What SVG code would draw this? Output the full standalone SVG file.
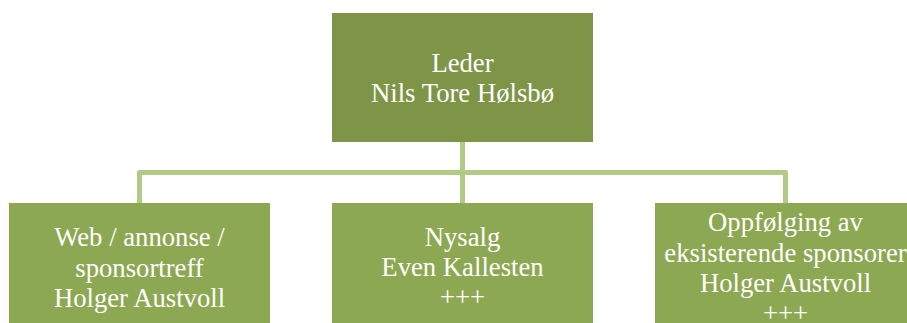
<svg xmlns="http://www.w3.org/2000/svg" width="907" height="323" viewBox="0 0 907 323">
<style>
.top{fill:#7E9548}
.box{fill:#8DA852}
text{font-family:'Liberation Serif','Times New Roman',serif;font-size:26.7px;fill:#FFFFFF;text-anchor:middle}
.c{fill:none;stroke:#B2CA84;stroke-width:5;stroke-linejoin:round}
</style>
<rect width="907" height="323" fill="#FFFFFF"/>
<g id="connectors">
<path class="c" d="M462.5,142 V172.5"/>
<path class="c" d="M139.5,203 V172.5 H785.5 V203"/>
<path class="c" d="M462.5,172.5 V203"/>
</g>
<g id="leder">
<rect class="top" x="332" y="13" width="261" height="129"/>
<text x="462.5" y="72">Leder</text>
<text x="462.5" y="102">Nils Tore Hølsbø</text>
</g>
<g id="web">
<rect class="box" x="9" y="203" width="261" height="130"/>
<text x="139.5" y="246">Web / annonse /</text>
<text x="139.5" y="277">sponsortreff</text>
<text x="139.5" y="307">Holger Austvoll</text>
</g>
<g id="nysalg">
<rect class="box" x="332" y="203" width="261" height="130"/>
<text x="462.5" y="246">Nysalg</text>
<text x="462.5" y="276">Even Kallesten</text>
<text x="462.5" y="306">+++</text>
</g>
<g id="oppfolging">
<rect class="box" x="655" y="203" width="261" height="130"/>
<text x="785.5" y="231">Oppfølging av</text>
<text x="785.5" y="262">eksisterende sponsorer</text>
<text x="785.5" y="292">Holger Austvoll</text>
<text x="785.5" y="322">+++</text>
</g>
</svg>
